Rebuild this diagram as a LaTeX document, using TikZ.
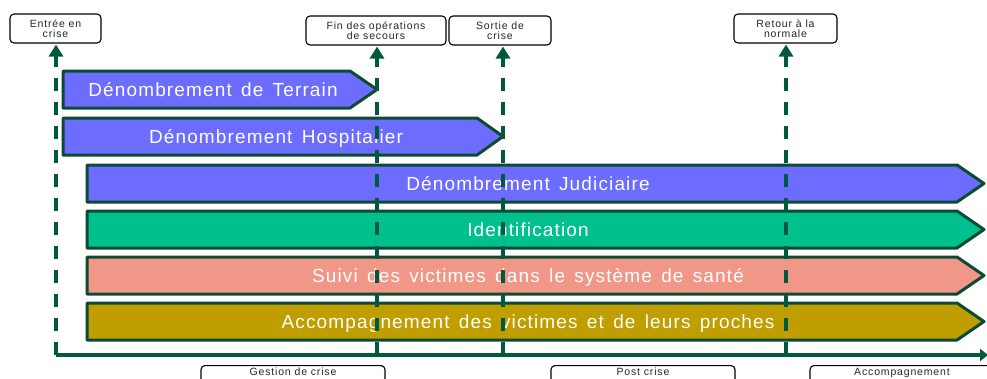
\documentclass[tikz,border=0pt]{standalone}
\usepackage{fontspec}
\setmainfont{Liberation Sans}
\newfontfamily\barfamily[LetterSpace=6,WordSpace=1.45]{Liberation Sans}
\newfontfamily\labelfamily[LetterSpace=8]{Liberation Sans}
\usetikzlibrary{arrows.meta}

\definecolor{barblue}{RGB}{108,108,255}
\definecolor{bargreen}{RGB}{0,192,142}
\definecolor{barsalmon}{RGB}{241,151,136}
\definecolor{barolive}{RGB}{192,158,0}
\definecolor{edgegreen}{RGB}{12,74,50}
\definecolor{guidegreen}{RGB}{0,88,62}

\newcommand{\bartextfont}{\barfamily\fontsize{19}{22}\selectfont}
\newcommand{\smalltextfont}{\labelfamily\fontsize{10.5}{10}\selectfont}

\begin{document}
\begin{tikzpicture}[x=1pt, y=-1pt,
  barshape/.style={draw=edgegreen, line width=3pt, line join=round},
  bartxt/.style={text=white, font=\bartextfont, inner sep=0pt, anchor=base},
  milestone/.style={draw=black, line width=1.1pt, rounded corners=4pt, fill=white,
    align=center, font=\smalltextfont, text=black!85, inner sep=1pt},
  phase/.style={draw=black, line width=1.1pt, rounded corners=4pt, fill=white,
    font=\smalltextfont, text=black!85, anchor=north, minimum width=184pt,
    text height=7.5pt, text depth=14pt, inner ysep=2.5pt},
  guide/.style={draw=guidegreen, line width=4pt, dash pattern=on 13pt off 11pt,
    -{Triangle[width=14pt,length=12pt]}, shorten >=1pt},
  axisline/.style={draw=guidegreen, line width=4pt, line join=round,
    -{Triangle[width=12pt,length=8pt]}}
]
\useasboundingbox (0,0) rectangle (987,378);
\clip (0,0) rectangle (987,378);

% activity bars
\draw[barshape, fill=barblue] (63,71) -- (350,71) -- (377,89.5) -- (350,108) -- (63,108) -- cycle;
\node[bartxt] (terrain) at (213,96) {Dénombrement de Terrain};

\draw[barshape, fill=barblue] (63,118) -- (477,118) -- (503,136.5) -- (477,155) -- (63,155) -- cycle;
\node[bartxt] (hospitalier) at (276,143) {Dénombrement Hospitalier};

\draw[barshape, fill=barblue] (87,165) -- (957,165) -- (984,183.5) -- (957,202) -- (87,202) -- cycle;
\node[bartxt] (judiciaire) at (528,190) {Dénombrement Judiciaire};

\draw[barshape, fill=bargreen] (87,211) -- (957,211) -- (984,229.5) -- (957,248) -- (87,248) -- cycle;
\node[bartxt] (ident) at (528,236) {Identification};

\draw[barshape, fill=barsalmon] (87,257) -- (957,257) -- (984,275.5) -- (957,294) -- (87,294) -- cycle;
\node[bartxt] (suivi) at (528,282) {Suivi des victimes dans le système de santé};

\draw[barshape, fill=barolive] (87,303) -- (957,303) -- (984,321.5) -- (957,340) -- (87,340) -- cycle;
\node[bartxt] (accomp) at (528,328) {Accompagnement des victimes et de leurs proches};

% milestones
\node[milestone, minimum width=91pt, minimum height=29pt] (entree) at (55.5,28.5) {Entrée en\\crise};
\node[milestone, minimum width=140pt, minimum height=29pt] (fin) at (376,30.5) {Fin des opérations\\de secours};
\node[milestone, minimum width=102pt, minimum height=29pt] (sortie) at (500,30.5) {Sortie de\\crise};
\node[milestone, minimum width=103pt, minimum height=29pt] (retour) at (785.5,28.5) {Retour à la\\normale};

% phases
\node[phase] (gestion) at (293,365) {Gestion de crise};
\node[phase] (post) at (643,365) {Post crise};
\node[phase] (suite) at (902,365) {Accompagnement};

% time axis and milestone markers
\coordinate (t0) at (56,355);
\coordinate (t1) at (377,355);
\coordinate (t2) at (503,355);
\coordinate (t3) at (786,355);
\coordinate (tend) at (988,355);

\draw[guide] (t0) -- (t0 |- entree.south);
\draw[guide] (t1) -- (t1 |- fin.south);
\draw[guide] (t2) -- (t2 |- sortie.south);
\draw[guide] (t3) -- (t3 |- retour.south);
\draw[axisline] (t0) -- (tend);
\end{tikzpicture}
\end{document}
